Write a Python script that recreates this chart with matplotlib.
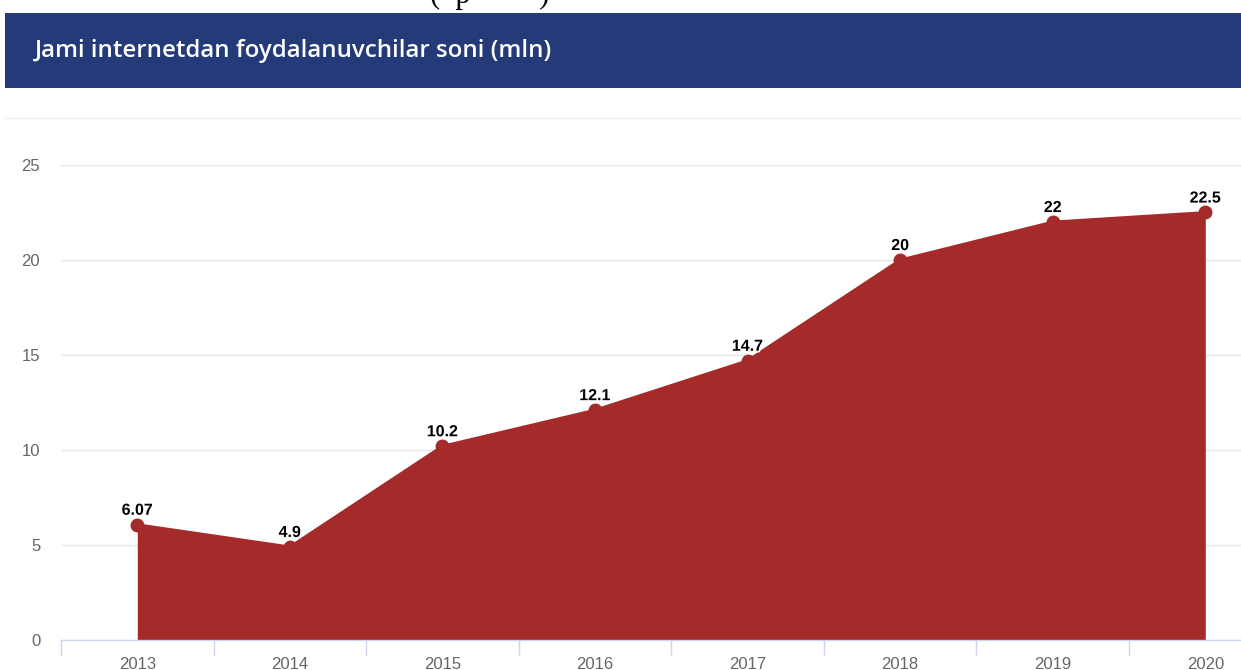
import matplotlib
matplotlib.use("Agg")
import matplotlib.pyplot as plt
from matplotlib.patches import Rectangle
import matplotlib.patheffects as pe

# data
years = ["2013", "2014", "2015", "2016", "2017", "2018", "2019", "2020"]
users = [6.07, 4.9, 10.2, 12.1, 14.7, 20, 22, 22.5]
labels = ["6.07", "4.9", "10.2", "12.1", "14.7", "20", "22", "22.5"]
yticks = [0, 5, 10, 15, 20, 25]
title = "Jami internetdan foydalanuvchilar soni (mln)"

W, H = 1241, 670
fig = plt.figure(figsize=(W / 100, H / 100), dpi=100)
fig.patch.set_facecolor("white")

# cut-off heading text from the page above
fig.text(430 / W, 1 - 3 / H, "(  p         )", family="Liberation Serif",
         fontsize=22, color="black", ha="left", va="baseline")

# blue header banner
fig.patches.append(Rectangle((5 / W, 1 - 88 / H), 1, 75 / H,
                             transform=fig.transFigure, facecolor="#253a78",
                             edgecolor="none", zorder=0))
fig.text(35 / W, 1 - 51 / H, title, color="white", fontsize=17.3,
         family="Open Sans", weight="semibold", va="center", ha="left")
# thin separator line
fig.add_artist(plt.Line2D([5 / W, 1], [1 - 118 / H, 1 - 118 / H],
                          transform=fig.transFigure, color="#eeeeee", lw=1))

# plot area
x0, x1 = 61, W
ytop, ybot = 165, 640
ax = fig.add_axes([x0 / W, 1 - ybot / H, (x1 - x0) / W, (ybot - ytop) / H])
step = (1205 - 137) / 7
xmax = -0.5 + (x1 - x0) / step
xs = list(range(len(years)))

ax.fill_between(xs, users, 0, color="#a52a2a", lw=0, zorder=2)
ax.plot(xs, users, color="#a52a2a", lw=2, marker="o", ms=9, zorder=3,
        clip_on=False)

for x, v, t in zip(xs, users, labels):
    ax.annotate(t, (x, v), xytext=(0, 5), textcoords="offset points",
                ha="center", va="bottom", fontsize=11.5, weight="bold",
                family="Liberation Sans", color="black", zorder=5,
                annotation_clip=False,
                path_effects=[pe.withStroke(linewidth=2.5, foreground="white")])

ax.set_yticks(yticks)
ax.set_yticklabels([str(v) for v in yticks], color="#666666", fontsize=12,
                   family="Liberation Sans")
ax.grid(axis="y", color="#e6e6e6", lw=1, zorder=0)
ax.set_axisbelow(True)

ax.set_xticks(xs)
ax.set_xticklabels(years, color="#666666", fontsize=12,
                   family="Liberation Sans")
ax.set_xticks([i - 0.5 for i in range(len(years) + 1)], minor=True)
ax.tick_params(axis="x", which="major", length=0, pad=12)
ax.tick_params(axis="x", which="minor", length=11, color="#ccd6eb", width=1)
ax.tick_params(axis="y", length=0, pad=15)

ax.set_xlim(-0.5, xmax)
ax.set_ylim(0, 25)

for s in ["top", "right", "left"]:
    ax.spines[s].set_visible(False)
ax.spines["bottom"].set_color("#ccd6eb")
ax.spines["bottom"].set_linewidth(1)

fig.savefig("out.png", dpi=100, facecolor="white")
